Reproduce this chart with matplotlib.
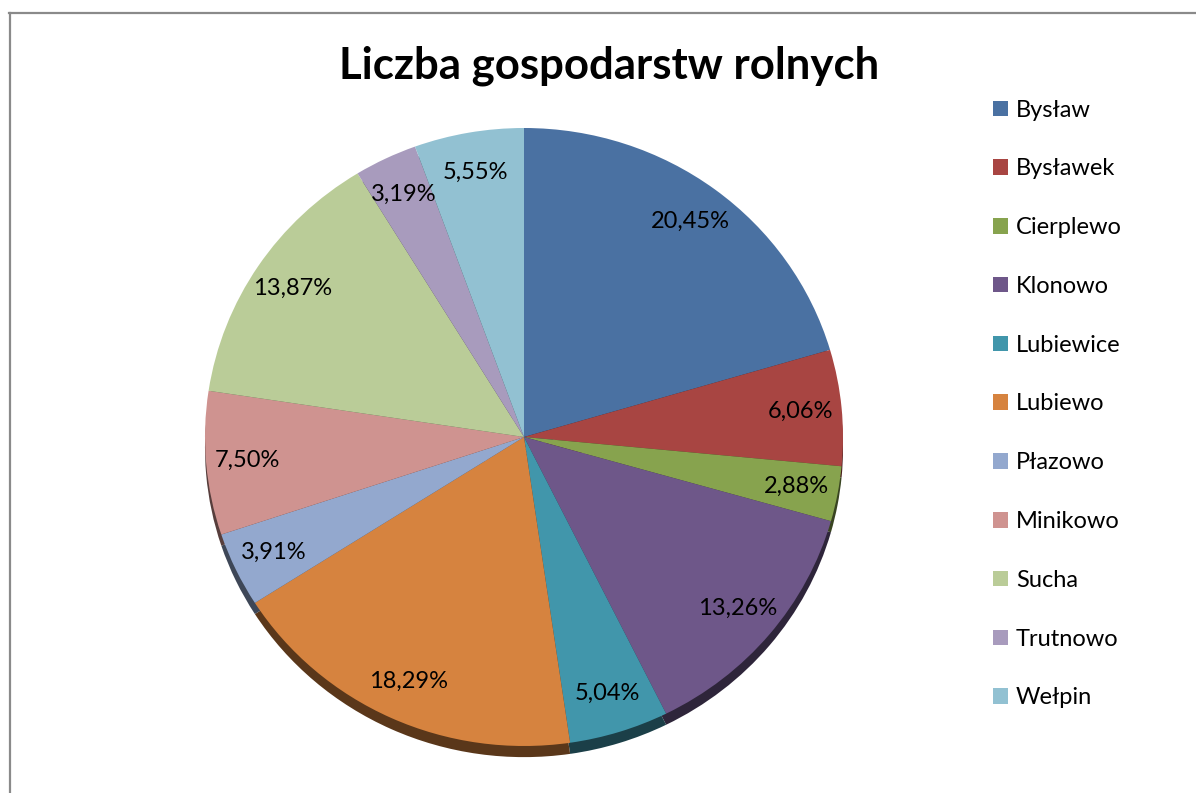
import matplotlib
matplotlib.use("Agg")
import matplotlib.pyplot as plt
from matplotlib.lines import Line2D
from matplotlib.patches import Patch
from matplotlib.colors import to_rgb

categories = ["Bysław", "Bysławek", "Cierplewo", "Klonowo", "Lubiewice", "Lubiewo",
              "Płazowo", "Minikowo", "Sucha", "Trutnowo", "Wełpin"]
values = [20.45, 6.06, 2.88, 13.26, 5.04, 18.29, 3.91, 7.50, 13.87, 3.19, 5.55]
colors = ["#4A71A2", "#A84542", "#87A34E", "#6E5789", "#4196AB", "#D6833F",
          "#93A8CE", "#CF9390", "#BACC98", "#A89BBD", "#92C1D2"]
title = "Liczba gospodarstw rolnych"

W, H = 1196, 793
fig = plt.figure(figsize=(W / 100, H / 100), dpi=100)
fig.patch.set_facecolor("white")

# pie ellipse geometry (pixels)
cx, cy, rx, ry = 524, 437, 319, 309
ax = fig.add_axes([(cx - rx) / W, (H - cy - ry) / H, 2 * rx / W, 2 * ry / H])

shadow_cols = [tuple(c * 0.42 for c in to_rgb(col)) for col in colors]
sh_w, _ = ax.pie(values, colors=shadow_cols, startangle=90, counterclock=False,
                 center=(0.0, -0.036), radius=1.0,
                 wedgeprops=dict(linewidth=0))
for w in sh_w:
    w.set_clip_on(False)

wedges, texts, autotexts = ax.pie(
    values, colors=colors, startangle=90, counterclock=False, radius=1.0,
    autopct=lambda p: f"{p:.2f}%".replace(".", ","), pctdistance=0.87,
    wedgeprops=dict(linewidth=0),
    textprops=dict(fontsize=17, family="Lato", color="black"))
for w in wedges:
    w.set_clip_on(False)

ax.set_aspect("auto")
ax.set_xlim(-1, 1)
ax.set_ylim(-1, 1)
ax.axis("off")

fig.text(609 / W, 1 - 66 / H, title, ha="center", va="center",
         fontsize=31.5, fontweight="bold", family="Lato")

handles = [Patch(facecolor=c, edgecolor="none") for c in colors]
fig.legend(handles, categories, loc="center left",
           bbox_to_anchor=(993 / W, 1 - 404 / H), frameon=False,
           prop=dict(family="Lato", size=17), labelspacing=1.6,
           handlelength=0.64, handleheight=0.64, handletextpad=0.33,
           borderpad=0, borderaxespad=0)

# chart-area border (top and left visible)
fig.add_artist(Line2D([9 / W, 1], [1 - 13 / H, 1 - 13 / H], color="#8a8a8a", lw=1.6))
fig.add_artist(Line2D([10 / W, 10 / W], [0, 1 - 13 / H], color="#8a8a8a", lw=1.6))

fig.savefig("out.png", dpi=100)
